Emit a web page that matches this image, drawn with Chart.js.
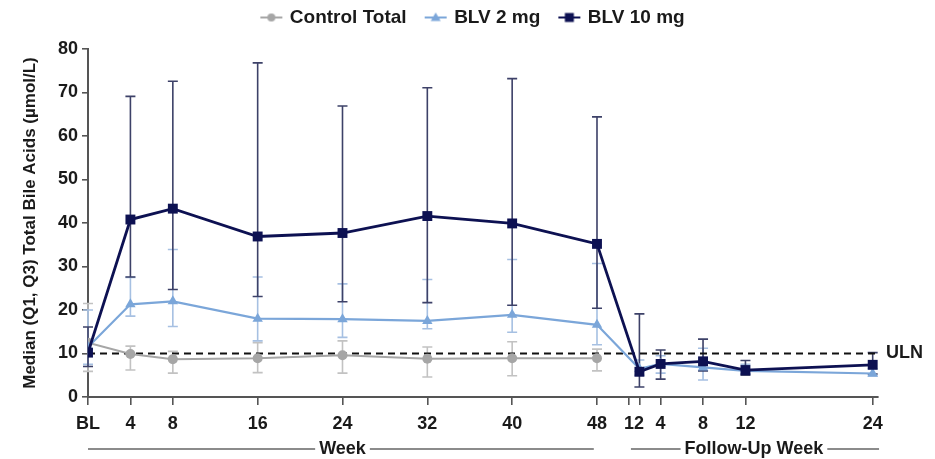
<!DOCTYPE html>
<html>
<head>
<meta charset="utf-8">
<script src="https://cdn.jsdelivr.net/npm/chart.js@4.4.1/dist/chart.umd.min.js"></script>
<style>
  html, body { margin: 0; padding: 0; background: #fff; }
  #wrap { width: 935px; height: 459px; }
</style>
</head>
<body>
<div id="wrap"><canvas id="bileChart" width="935" height="459"></canvas></div>
<script>
// visit positions on the x axis (weeks; follow-up weeks shifted after week 48)
const weekPos = [0, 4, 8, 16, 24, 32, 40, 48, 52, 54, 58, 62, 74];
const xTickPos = [0, 4, 8, 16, 24, 32, 40, 48, 51, 51.5, 52, 54, 58, 62, 74];
const xTickLabels = ['BL', '4', '8', '16', '24', '32', '40', '48', '', '12', '', '4', '8', '12', '24'];
const yTicks = [0, 10, 20, 30, 40, 50, 60, 70, 80];
const uln = 10;

// Control Total (treatment period only)
const controlMedian = [12.5, 9.9, 8.7, 8.9, 9.6, 8.8, 8.9, 8.9];
const controlQ1 = [5.9, 6.2, 5.5, 5.6, 5.5, 4.6, 4.9, 6.0];
const controlQ3 = [21.5, 11.7, 10.5, 12.5, 12.9, 11.5, 12.7, 11.0];

// BLV 2 mg
const blv2Median = [11.5, 21.3, 22.0, 18.0, 17.9, 17.5, 18.9, 16.6, 6.5, 7.6, 6.8, 6.0, 5.4];
const blv2Q1 = [7.5, 18.6, 16.2, 12.9, 13.7, 15.7, 14.9, 12.0, 5.0, 5.5, 3.9, 5.2, 4.8];
const blv2Q3 = [20.0, 27.5, 33.9, 27.6, 26.0, 27.0, 31.6, 30.7, 8.5, 9.5, 11.2, 7.5, 6.5];

// BLV 10 mg
const blv10Median = [10.2, 40.8, 43.3, 36.9, 37.7, 41.6, 39.9, 35.2, 5.8, 7.6, 8.2, 6.2, 7.4];
const blv10Q1 = [7.0, 27.6, 24.7, 23.1, 21.9, 21.7, 21.1, 20.4, 2.3, 4.1, 6.0, 5.0, 5.3];
const blv10Q3 = [16.1, 69.1, 72.6, 76.8, 66.9, 71.1, 73.2, 64.4, 19.1, 10.8, 13.3, 8.4, 10.2];

const grayColor = '#a6a6a6';
const lightBlue = '#7ba6d9';
const navy = '#0d1152';
const axisColor = '#555';
const textColor = '#1a1a1a';
const fontFamily = '"Liberation Sans", Arial, sans-serif';

const toPoints = (vals) => vals.map((v, i) => ({ x: weekPos[i], y: v }));

// legend icon: short line with the marker in the middle
const makeIcon = (color, shape) => {
    const c = document.createElement('canvas');
    c.width = 40;
    c.height = 16;
    const g = c.getContext('2d');
    g.strokeStyle = color;
    g.fillStyle = color;
    g.lineWidth = 2;
    g.beginPath();
    g.moveTo(15, 8);
    g.lineTo(37, 8);
    g.stroke();
    g.beginPath();
    if (shape === 'circle') {
        g.arc(26, 8, 4, 0, Math.PI * 2);
    } else if (shape === 'triangle') {
        g.moveTo(26, 3);
        g.lineTo(31, 11.5);
        g.lineTo(21, 11.5);
        g.closePath();
    } else {
        g.rect(21.5, 3.5, 9, 9);
    }
    g.fill();
    return c;
};
const legendIcons = [
    makeIcon(grayColor, 'circle'),
    makeIcon(lightBlue, 'triangle'),
    makeIcon(navy, 'rect'),
];

const errorSets = [
    { lo: controlQ1, hi: controlQ3, color: '#c2c2c2' },
    { lo: blv2Q1, hi: blv2Q3, color: '#a6c0e2' },
    { lo: blv10Q1, hi: blv10Q3, color: '#3d4168' },
];

const errorBars = {
    id: 'errorBars',
    beforeDatasetsDraw(chart) {
        const { ctx, scales: { x, y }, chartArea } = chart;
        ctx.save();
        ctx.lineWidth = 1.6;
        errorSets.forEach((s) => {
            ctx.strokeStyle = s.color;
            s.lo.forEach((lo, i) => {
                const px = x.getPixelForValue(weekPos[i]);
                const top = y.getPixelForValue(s.hi[i]);
                const bot = y.getPixelForValue(lo);
                ctx.beginPath();
                ctx.moveTo(px, top);
                ctx.lineTo(px, bot);
                ctx.moveTo(px - 5, top);
                ctx.lineTo(px + 5, top);
                ctx.moveTo(px - 5, bot);
                ctx.lineTo(px + 5, bot);
                ctx.stroke();
            });
        });
        // upper limit of normal
        const yu = y.getPixelForValue(uln);
        ctx.strokeStyle = '#111';
        ctx.lineWidth = 2;
        ctx.setLineDash([7, 5]);
        ctx.beginPath();
        ctx.moveTo(chartArea.left, yu);
        ctx.lineTo(chartArea.right, yu);
        ctx.stroke();
        ctx.setLineDash([]);
        ctx.fillStyle = textColor;
        ctx.font = 'bold 18px ' + fontFamily;
        ctx.textAlign = 'left';
        ctx.textBaseline = 'middle';
        ctx.fillText('ULN', chartArea.right + 8, yu);
        ctx.restore();
    },
};

// "Week" and "Follow-Up Week" labels with rules under the x axis
const groupLabels = {
    id: 'groupLabels',
    afterDraw(chart) {
        const { ctx, scales: { x } } = chart;
        const yPos = 449;
        const groups = [
            { text: 'Week', from: 0, to: 47.7, mid: 24 },
            { text: 'Follow-Up Week', from: 51.2, to: 74.6, mid: 62.8 },
        ];
        ctx.save();
        ctx.font = 'bold 18px ' + fontFamily;
        ctx.fillStyle = textColor;
        ctx.strokeStyle = '#666';
        ctx.lineWidth = 1.3;
        ctx.textAlign = 'center';
        ctx.textBaseline = 'middle';
        groups.forEach((gr) => {
            const cx = x.getPixelForValue(gr.mid);
            const w = ctx.measureText(gr.text).width;
            ctx.fillText(gr.text, cx, yPos);
            ctx.beginPath();
            ctx.moveTo(x.getPixelForValue(gr.from), yPos);
            ctx.lineTo(cx - w / 2 - 4, yPos);
            ctx.moveTo(cx + w / 2 + 4, yPos);
            ctx.lineTo(x.getPixelForValue(gr.to), yPos);
            ctx.stroke();
        });
        ctx.restore();
    },
};

// extra room under the legend
const legendSpace = {
    id: 'legendSpace',
    beforeInit(chart) {
        const fit = chart.legend.fit;
        chart.legend.fit = function () {
            fit.bind(chart.legend)();
            this.height += 12;
        };
    },
};

const bileChart = () => {
    const ctx = document.getElementById('bileChart').getContext('2d');
    new Chart(ctx, {
        type: 'line',
        data: {
            datasets: [
                {
                    label: 'Control Total',
                    data: toPoints(controlMedian),
                    borderColor: grayColor,
                    backgroundColor: grayColor,
                    borderWidth: 2,
                    pointStyle: 'circle',
                    pointRadius: 5,
                    pointBorderWidth: 0,
                    order: 2,
                },
                {
                    label: 'BLV 2 mg',
                    data: toPoints(blv2Median),
                    borderColor: lightBlue,
                    backgroundColor: lightBlue,
                    borderWidth: 2.2,
                    pointStyle: 'triangle',
                    pointRadius: 6,
                    pointBorderWidth: 0,
                    order: 1,
                },
                {
                    label: 'BLV 10 mg',
                    data: toPoints(blv10Median),
                    borderColor: navy,
                    backgroundColor: navy,
                    borderWidth: 2.8,
                    pointStyle: 'rect',
                    pointRadius: 7,
                    pointBorderWidth: 0,
                    order: 0,
                },
            ],
        },
        options: {
            responsive: false,
            animation: false,
            layout: { padding: 0 },
            plugins: {
                tooltip: { enabled: false },
                legend: {
                    position: 'top',
                    labels: {
                        usePointStyle: true,
                        pointStyleWidth: 30,
                        padding: 8,
                        color: textColor,
                        font: { family: fontFamily, size: 19, weight: 'bold' },
                        sort: (a, b) => a.datasetIndex - b.datasetIndex,
                        generateLabels(chart) {
                            const items = Chart.defaults.plugins.legend.labels.generateLabels(chart);
                            items.forEach((it) => { it.pointStyle = legendIcons[it.datasetIndex]; });
                            return items;
                        },
                    },
                },
            },
            scales: {
                x: {
                    type: 'linear',
                    min: 0,
                    max: 74.5,
                    afterBuildTicks: (scale) => {
                        scale.ticks = xTickPos.map((v) => ({ value: v }));
                    },
                    afterFit: (scale) => { scale.height = 62; },
                    border: { color: axisColor, width: 2 },
                    grid: {
                        drawOnChartArea: false,
                        tickLength: 8,
                        lineWidth: 1.6,
                        color: axisColor,
                        tickColor: (c) => (c.tick && c.tick.value === 51.5 ? 'rgba(0,0,0,0)' : axisColor),
                    },
                    ticks: {
                        autoSkip: false,
                        maxRotation: 0,
                        padding: 8,
                        color: textColor,
                        font: { family: fontFamily, size: 18, weight: 'bold' },
                        callback: (value) => {
                            const i = xTickPos.indexOf(value);
                            return i >= 0 ? xTickLabels[i] : '';
                        },
                    },
                },
                y: {
                    min: 0,
                    max: 80,
                    afterBuildTicks: (scale) => {
                        scale.ticks = yTicks.map((v) => ({ value: v }));
                    },
                    afterFit: (scale) => { scale.width = 88; },
                    border: { color: axisColor, width: 2 },
                    grid: {
                        drawOnChartArea: false,
                        tickLength: 6,
                        lineWidth: 1.6,
                        color: axisColor,
                    },
                    ticks: {
                        padding: 4,
                        color: textColor,
                        font: { family: fontFamily, size: 18, weight: 'bold' },
                    },
                    title: {
                        display: true,
                        text: 'Median (Q1, Q3) Total Bile Acids (µmol/L)',
                        color: textColor,
                        font: { family: fontFamily, size: 17, weight: 'bold' },
                        padding: { top: 20, bottom: 0 },
                    },
                },
                // empty right-hand axis that keeps room for the ULN label
                yRight: {
                    position: 'right',
                    min: 0,
                    max: 80,
                    afterFit: (scale) => { scale.width = 57; },
                    border: { display: false },
                    grid: { display: false, drawTicks: false },
                    ticks: { display: false },
                },
            },
        },
        plugins: [legendSpace, errorBars, groupLabels],
    });
};

window.onload = () => {
    bileChart();
};
</script>
</body>
</html>
